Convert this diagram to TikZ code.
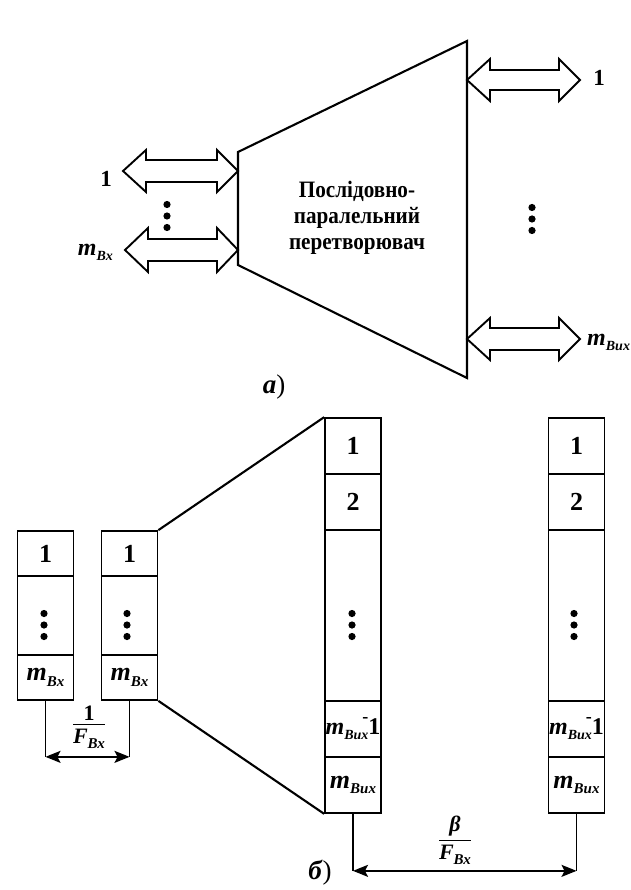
\documentclass[tikz,border=0pt]{standalone}
\usepackage{amsmath}
\usepackage{fontspec}
\setmainfont{Liberation Serif}
\newfontfamily\condfont[FakeStretch=0.9]{Liberation Serif}
\usetikzlibrary{arrows.meta}
\newcommand\bxfont{\fontsize{26}{30}\selectfont\bfseries}
\newcommand\subfnt{\fontsize{15}{15}\selectfont\bfseries\itshape}
\newcommand\mlab[1]{\textit{m}\raisebox{-0.45ex}{\subfnt #1}}
\newcommand\mlabs[1]{{\fontsize{24}{28}\selectfont\bfseries\textit{m}\raisebox{-0.45ex}{\fontsize{14}{14}\selectfont\bfseries\itshape #1}}}
\newcommand\mlabm{{\fontsize{24}{28}\selectfont\bfseries\textit{m}\raisebox{-0.45ex}{\fontsize{14}{14}\selectfont\bfseries\itshape Вих}\llap{\raisebox{0.5em}{\fontsize{18}{18}\selectfont -}}1}}
\newcommand\flab{\textit{F}\raisebox{-0.45ex}{\subfnt Вх}}
\newcommand\fracx[2]{\vbox{\offinterlineskip\halign{\hfil##\hfil\cr #1\cr
  \noalign{\kern4pt\hrule height 1.4pt\kern4pt}
  #2\cr}}}
\newcommand\hollowarrow[5]{% x0 x1 y headhalf shafthalf
  \draw[hollow] (#1,#3) -- ({#1+23},{#3-#4}) -- ({#1+23},{#3-#5}) -- ({#2-21},{#3-#5})
    -- ({#2-21},{#3-#4}) -- (#2,#3) -- ({#2-21},{#3+#4}) -- ({#2-21},{#3+#5})
    -- ({#1+23},{#3+#5}) -- ({#1+23},{#3+#4}) -- cycle;}
\newcommand\threedots[2]{%
  \fill (#1,{#2-11.5}) circle (3.6);
  \fill (#1,#2) circle (3.6);
  \fill (#1,{#2+11.5}) circle (3.6);}
\tikzset{
  frame/.style={line width=2.1pt, line join=miter},
  cell/.style={draw, line width=1.7pt, minimum width=56pt, inner sep=0pt, font=\bxfont},
  hollow/.style={draw, line width=1.9pt, line join=miter, fill=white},
  dim/.style={line width=1.6pt},
  dimarrow/.style={line width=1.6pt, {Stealth[length=15pt,width=12pt,inset=3pt]}-{Stealth[length=15pt,width=12pt,inset=3pt]}},
  lbl/.style={inner sep=0pt, font=\bxfont},
}
\begin{document}
\begin{tikzpicture}[x=1pt,y=-1pt]
\useasboundingbox (0,0) rectangle (630,890);
% ---------- part a ----------
\coordinate (tl) at (238,152);
\coordinate (tr) at (467,41);
\coordinate (br) at (467,378);
\coordinate (bl) at (238,265);
\draw[frame] (tl) -- (tr) -- (br) -- (bl) -- cycle;
\node[inner sep=0pt, align=center, font=\condfont\fontsize{23.5}{26}\selectfont\bfseries] (conv) at (357,218)
  {Послідовно-\\паралельний\\перетворювач};
\hollowarrow{123}{238}{171}{21}{11}
\hollowarrow{125}{238}{250}{22}{11}
\hollowarrow{467}{580}{80}{21}{10}
\hollowarrow{467}{580}{339}{21}{11}
\node[lbl, font=\fontsize{23}{26}\selectfont\bfseries] (in1) at (106,179) {1};
\node[inner sep=0pt, anchor=east] (inm) at (113,252) {\mlabs{Вх}};
\node[lbl, font=\fontsize{23}{26}\selectfont\bfseries] (out1) at (599,78) {1};
\node[inner sep=0pt, anchor=west] (outm) at (587,342) {\mlabs{Вих}};
\threedots{167}{216}
\threedots{532}{219}
\node[lbl, font=\fontsize{27}{30}\selectfont] (capa) at (274,387) {\textbf{\textit{а}})};
% ---------- part b ----------
% column 1
\node[cell, minimum height=45pt] (a1) at (45.5,553.5) {1};
\node[cell, minimum height=79pt] (a2) at (45.5,615.5) {};
\node[cell, minimum height=45pt] (a3) at (45.5,677.5) {\mlab{Вх}};
\threedots{44}{625}
% column 2
\node[cell, minimum height=45pt] (b1) at (129.5,553.5) {1};
\node[cell, minimum height=79pt] (b2) at (129.5,615.5) {};
\node[cell, minimum height=45pt] (b3) at (129.5,677.5) {\mlab{Вх}};
\threedots{127}{625}
% column 3
\node[cell, minimum height=56pt] (c1) at (353,446) {1};
\node[cell, minimum height=56pt] (c2) at (353,502) {2};
\node[cell, minimum height=171pt] (c3) at (353,615.5) {};
\node[cell, minimum height=56pt] (c4) at (353,729) {\mlabm};
\node[cell, minimum height=56pt] (c5) at (353,785) {\mlab{Вих}};
\threedots{352}{625}
% column 4
\node[cell, minimum height=56pt] (d1) at (576.5,446) {1};
\node[cell, minimum height=56pt] (d2) at (576.5,502) {2};
\node[cell, minimum height=171pt] (d3) at (576.5,615.5) {};
\node[cell, minimum height=56pt] (d4) at (576.5,729) {\mlabm};
\node[cell, minimum height=56pt] (d5) at (576.5,785) {\mlab{Вих}};
\threedots{574}{625}
% expansion lines
\draw[frame] (b1.north east) -- (c1.north west);
\draw[frame] (b3.south east) -- (c5.south west);
% dimension 1/F
\coordinate (p1) at ([yshift=-56pt]a3.south);
\coordinate (p2) at ([yshift=-56pt]b3.south);
\draw[dim] (a3.south) -- (p1);
\draw[dim] (b3.south) -- (p2);
\draw[dimarrow] (p1) -- (p2);
\node[inner sep=0pt, font=\fontsize{22}{24}\selectfont\bfseries] (fr1) at (89,727)
  {\fracx{1}{\flab}};
% dimension beta/F
\coordinate (q1) at ([yshift=-57pt]c5.south);
\coordinate (q2) at ([yshift=-57pt]d5.south);
\draw[dim] (c5.south) -- (q1);
\draw[dim] (d5.south) -- (q2);
\draw[dimarrow] (q1) -- (q2);
\node[inner sep=0pt, font=\fontsize{22}{24}\selectfont\bfseries] (fr2) at (455,840)
  {\fracx{\textit{β}}{\flab}};
\node[lbl, font=\fontsize{27}{30}\selectfont] (capb) at (320,873) {\textbf{\textit{б}})};
\end{tikzpicture}
\end{document}
